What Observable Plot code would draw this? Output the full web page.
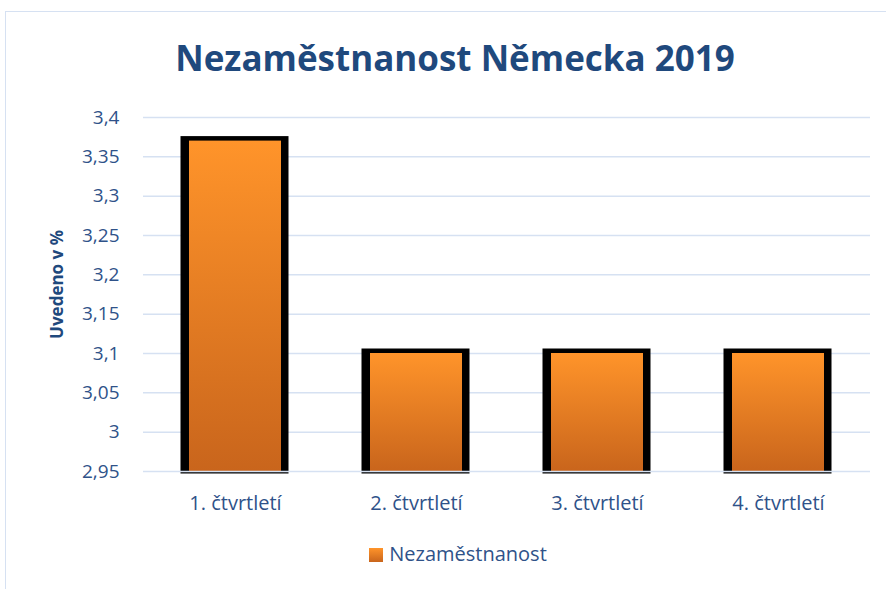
<!DOCTYPE html>
<html>
<head>
<meta charset="utf-8">
<script src="https://cdn.jsdelivr.net/npm/d3@7"></script>
<script src="https://cdn.jsdelivr.net/npm/@observablehq/plot@0.6"></script>
<style>
  html, body { margin: 0; padding: 0; background: #fff; width: 886px; height: 589px; overflow: hidden; }
  body { position: relative; font-family: "Open Sans", sans-serif; }
  #frame { position: absolute; left: 5px; top: 11px; width: 920px; height: 620px;
           border-left: 1.5px solid #d6e1f2; border-top: 1.5px solid #d6e1f2; pointer-events: none; }
  #title { position: absolute; left: 12px; top: 40px; width: 886px; text-align: center;
           font-weight: 700; font-size: 35px; color: #1f497d; line-height: 1; white-space: nowrap; }
  #chart { position: absolute; left: 0; top: 90px; }
  #legend { position: absolute; left: 15px; top: 544px; width: 886px; text-align: center; font-size: 20px;
            line-height: 1; color: #2f5289; white-space: nowrap; }
  #legend .sw { display: inline-block; width: 14px; height: 14px; margin-right: 6px; vertical-align: -1px;
                background: linear-gradient(#ff942a, #c9651c); }
</style>
</head>
<body>
<div id="title">Nezaměstnanost Německa 2019</div>
<div id="chart"></div>
<div id="legend"><span class="sw"></span>Nezaměstnanost</div>
<div id="frame"></div>
<script>
const categories = ["1. čtvrtletí", "2. čtvrtletí", "3. čtvrtletí", "4. čtvrtletí"];
const values = [3.37, 3.1, 3.1, 3.1];
const baseline = 2.95;
const yTicks = [2.95, 3.0, 3.05, 3.1, 3.15, 3.2, 3.25, 3.3, 3.35, 3.4];
const yTickLabels = ["2,95", "3", "3,05", "3,1", "3,15", "3,2", "3,25", "3,3", "3,35", "3,4"];
const seriesName = "Nezaměstnanost";

const data = categories.map((c, i) => ({ q: c, v: values[i], b: baseline }));
const tickLabel = new Map(yTicks.map((t, i) => [t, yTickLabels[i]]));

const chart = Plot.plot({
  width: 886,
  height: 440,
  marginTop: 27,
  marginBottom: 59,
  marginLeft: 143,
  marginRight: 16,
  style: { fontFamily: "Open Sans, sans-serif", background: "transparent", overflow: "visible" },
  x: { domain: categories, paddingInner: 0.494, paddingOuter: 0.247, label: null },
  y: { domain: [2.95, 3.4], label: null },
  marks: [
    Plot.ruleY(yTicks.filter(t => t !== baseline), { stroke: "#d6e1f2", strokeWidth: 1.5 }),
    // black outline (thicker at the sides than at the top)
    Plot.barY(data, { x: "q", y1: "b", y2: "v", fill: "#000",
      insetLeft: -8.5, insetRight: -7.5, insetTop: -4.5, insetBottom: -2.5 }),
    // orange gradient fill
    Plot.barY(data, { x: "q", y1: "b", y2: "v", fill: "url(#barGrad)", title: () => seriesName }),
    Plot.ruleY([baseline], { stroke: "#d6e1f2", strokeWidth: 1.5 }),
    Plot.axisY(yTicks, { tickSize: 0, tickPadding: 24, fontSize: 19, fill: "#2f5289",
      tickFormat: d => tickLabel.get(d) }),
    Plot.axisX({ tickSize: 0, tickPadding: 24, fontSize: 20, fill: "#2f5289" }),
    Plot.text(["Uvedeno v %"], { frameAnchor: "left", textAnchor: "middle", dx: -86, dy: -10, rotate: -90,
      fontSize: 17, fontWeight: 700, fill: "#1f497d" })
  ]
});

const svg = d3.select(chart);
const grad = svg.insert("defs", ":first-child").append("linearGradient")
  .attr("id", "barGrad").attr("x1", 0).attr("y1", 0).attr("x2", 0).attr("y2", 1);
grad.append("stop").attr("offset", "0%").attr("stop-color", "#ff942a");
grad.append("stop").attr("offset", "100%").attr("stop-color", "#c9651c");

document.getElementById("chart").appendChild(chart);
</script>
</body>
</html>
